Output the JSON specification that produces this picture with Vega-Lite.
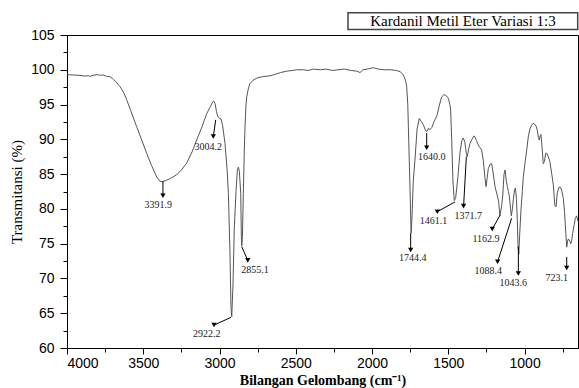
{
  "$schema": "https://vega.github.io/schema/vega-lite/v6.json",
  "width": 511,
  "height": 313,
  "autosize": {"type": "none"},
  "padding": {"left": 67, "top": 35, "right": 1, "bottom": 40},
  "background": "white",
  "config": {
    "view": {"stroke": "black", "strokeWidth": 1},
    "axis": {"domainColor": "black", "tickColor": "black", "labelColor": "black", "titleColor": "black", "grid": false, "labelFont": "Liberation Sans", "labelFontSize": 14, "titleFont": "Liberation Serif"}
  },
  "datasets": {
    "spectrum": [
      {"wn": 4000, "T": 99.3}, {"wn": 3960, "T": 99.25}, {"wn": 3920, "T": 99.2}, {"wn": 3880, "T": 99.1}, {"wn": 3860, "T": 99.15}, {"wn": 3849, "T": 99.05}, {"wn": 3830, "T": 99.2}, {"wn": 3800, "T": 99.3}, {"wn": 3780, "T": 99.2}, {"wn": 3762, "T": 99.25}, {"wn": 3740, "T": 99.05}, {"wn": 3718, "T": 99.0}, {"wn": 3705, "T": 98.8}, {"wn": 3696, "T": 98.6}, {"wn": 3680, "T": 98.3}, {"wn": 3665, "T": 97.9}, {"wn": 3653, "T": 97.6}, {"wn": 3630, "T": 96.8}, {"wn": 3609, "T": 95.7}, {"wn": 3580, "T": 94.0}, {"wn": 3543, "T": 91.8}, {"wn": 3510, "T": 89.9}, {"wn": 3478, "T": 88.0}, {"wn": 3445, "T": 86.2}, {"wn": 3412, "T": 84.6}, {"wn": 3392, "T": 84.0}, {"wn": 3375, "T": 83.9}, {"wn": 3350, "T": 84.1}, {"wn": 3320, "T": 84.4}, {"wn": 3281, "T": 84.9}, {"wn": 3250, "T": 85.6}, {"wn": 3215, "T": 86.6}, {"wn": 3180, "T": 88.2}, {"wn": 3150, "T": 89.9}, {"wn": 3115, "T": 91.8}, {"wn": 3084, "T": 93.7}, {"wn": 3060, "T": 94.7}, {"wn": 3045, "T": 95.4}, {"wn": 3038, "T": 95.5}, {"wn": 3030, "T": 95.2}, {"wn": 3020, "T": 94.0}, {"wn": 3012, "T": 93.3}, {"wn": 3000, "T": 93.0}, {"wn": 2990, "T": 92.9}, {"wn": 2980, "T": 92.0}, {"wn": 2964, "T": 89.4}, {"wn": 2950, "T": 85.5}, {"wn": 2942, "T": 82.2}, {"wn": 2932, "T": 74.0}, {"wn": 2925, "T": 66.0}, {"wn": 2920, "T": 64.5}, {"wn": 2912, "T": 69.0}, {"wn": 2903, "T": 77.4}, {"wn": 2892, "T": 82.5}, {"wn": 2883, "T": 85.6}, {"wn": 2876, "T": 86.0}, {"wn": 2870, "T": 85.4}, {"wn": 2861, "T": 82.2}, {"wn": 2857, "T": 76.0}, {"wn": 2854, "T": 74.7}, {"wn": 2850, "T": 76.0}, {"wn": 2844, "T": 82.2}, {"wn": 2838, "T": 88.0}, {"wn": 2833, "T": 91.8}, {"wn": 2827, "T": 94.8}, {"wn": 2822, "T": 96.1}, {"wn": 2810, "T": 97.4}, {"wn": 2800, "T": 98.05}, {"wn": 2780, "T": 98.5}, {"wn": 2756, "T": 98.8}, {"wn": 2720, "T": 99.0}, {"wn": 2680, "T": 99.1}, {"wn": 2647, "T": 99.25}, {"wn": 2600, "T": 99.6}, {"wn": 2560, "T": 99.8}, {"wn": 2520, "T": 99.9}, {"wn": 2494, "T": 100.0}, {"wn": 2450, "T": 100.0}, {"wn": 2420, "T": 99.9}, {"wn": 2385, "T": 100.1}, {"wn": 2340, "T": 100.0}, {"wn": 2300, "T": 100.1}, {"wn": 2260, "T": 99.9}, {"wn": 2220, "T": 100.0}, {"wn": 2180, "T": 100.1}, {"wn": 2140, "T": 99.9}, {"wn": 2100, "T": 99.8}, {"wn": 2079, "T": 99.6}, {"wn": 2060, "T": 100.0}, {"wn": 2030, "T": 100.1}, {"wn": 1992, "T": 100.3}, {"wn": 1960, "T": 100.1}, {"wn": 1920, "T": 100.0}, {"wn": 1880, "T": 100.0}, {"wn": 1839, "T": 99.9}, {"wn": 1815, "T": 99.7}, {"wn": 1800, "T": 99.4}, {"wn": 1790, "T": 99.0}, {"wn": 1780, "T": 98.4}, {"wn": 1773, "T": 97.6}, {"wn": 1766, "T": 95.0}, {"wn": 1762, "T": 91.8}, {"wn": 1755, "T": 86.0}, {"wn": 1748, "T": 80.0}, {"wn": 1744, "T": 76.5}, {"wn": 1738, "T": 79.0}, {"wn": 1730, "T": 84.0}, {"wn": 1719, "T": 87.0}, {"wn": 1705, "T": 91.5}, {"wn": 1690, "T": 93.0}, {"wn": 1678, "T": 92.6}, {"wn": 1664, "T": 92.1}, {"wn": 1650, "T": 91.3}, {"wn": 1642, "T": 91.1}, {"wn": 1630, "T": 91.6}, {"wn": 1620, "T": 91.4}, {"wn": 1608, "T": 91.7}, {"wn": 1595, "T": 92.5}, {"wn": 1576, "T": 93.3}, {"wn": 1560, "T": 94.8}, {"wn": 1544, "T": 96.1}, {"wn": 1530, "T": 96.4}, {"wn": 1522, "T": 96.4}, {"wn": 1510, "T": 96.2}, {"wn": 1500, "T": 95.9}, {"wn": 1490, "T": 95.0}, {"wn": 1485, "T": 94.2}, {"wn": 1478, "T": 90.0}, {"wn": 1470, "T": 84.0}, {"wn": 1461, "T": 81.2}, {"wn": 1452, "T": 81.6}, {"wn": 1439, "T": 84.2}, {"wn": 1430, "T": 86.5}, {"wn": 1424, "T": 88.0}, {"wn": 1412, "T": 89.8}, {"wn": 1402, "T": 90.2}, {"wn": 1392, "T": 89.6}, {"wn": 1382, "T": 88.0}, {"wn": 1376, "T": 87.5}, {"wn": 1366, "T": 88.7}, {"wn": 1358, "T": 89.4}, {"wn": 1345, "T": 90.0}, {"wn": 1332, "T": 90.5}, {"wn": 1325, "T": 90.3}, {"wn": 1315, "T": 89.8}, {"wn": 1304, "T": 89.2}, {"wn": 1293, "T": 88.8}, {"wn": 1282, "T": 88.5}, {"wn": 1271, "T": 87.0}, {"wn": 1260, "T": 84.5}, {"wn": 1253, "T": 83.2}, {"wn": 1245, "T": 84.5}, {"wn": 1238, "T": 85.8}, {"wn": 1226, "T": 86.4}, {"wn": 1216, "T": 86.5}, {"wn": 1205, "T": 85.0}, {"wn": 1194, "T": 83.2}, {"wn": 1180, "T": 82.0}, {"wn": 1170, "T": 81.0}, {"wn": 1162, "T": 79.0}, {"wn": 1150, "T": 80.5}, {"wn": 1143, "T": 82.0}, {"wn": 1135, "T": 85.0}, {"wn": 1128, "T": 85.6}, {"wn": 1120, "T": 84.0}, {"wn": 1113, "T": 83.2}, {"wn": 1106, "T": 82.5}, {"wn": 1100, "T": 81.8}, {"wn": 1092, "T": 80.0}, {"wn": 1087, "T": 79.0}, {"wn": 1080, "T": 80.0}, {"wn": 1074, "T": 81.3}, {"wn": 1066, "T": 82.8}, {"wn": 1060, "T": 83.0}, {"wn": 1054, "T": 81.5}, {"wn": 1048, "T": 78.5}, {"wn": 1043, "T": 74.5}, {"wn": 1038, "T": 73.5}, {"wn": 1033, "T": 76.0}, {"wn": 1024, "T": 79.8}, {"wn": 1015, "T": 82.5}, {"wn": 1009, "T": 84.5}, {"wn": 998, "T": 86.5}, {"wn": 986, "T": 88.5}, {"wn": 975, "T": 90.5}, {"wn": 965, "T": 91.5}, {"wn": 955, "T": 92.0}, {"wn": 945, "T": 92.3}, {"wn": 935, "T": 92.2}, {"wn": 925, "T": 91.9}, {"wn": 917, "T": 91.3}, {"wn": 910, "T": 90.3}, {"wn": 904, "T": 89.9}, {"wn": 898, "T": 90.5}, {"wn": 893, "T": 90.7}, {"wn": 886, "T": 89.0}, {"wn": 878, "T": 86.5}, {"wn": 870, "T": 86.8}, {"wn": 862, "T": 88.0}, {"wn": 855, "T": 88.0}, {"wn": 845, "T": 87.5}, {"wn": 834, "T": 86.8}, {"wn": 822, "T": 85.0}, {"wn": 812, "T": 83.5}, {"wn": 802, "T": 80.5}, {"wn": 794, "T": 80.3}, {"wn": 786, "T": 82.3}, {"wn": 775, "T": 83.1}, {"wn": 764, "T": 83.1}, {"wn": 755, "T": 82.5}, {"wn": 746, "T": 81.5}, {"wn": 738, "T": 79.5}, {"wn": 730, "T": 76.5}, {"wn": 724, "T": 74.5}, {"wn": 716, "T": 75.6}, {"wn": 709, "T": 75.6}, {"wn": 702, "T": 75.3}, {"wn": 697, "T": 75.0}, {"wn": 691, "T": 75.5}, {"wn": 685, "T": 76.5}, {"wn": 676, "T": 77.6}, {"wn": 668, "T": 78.6}, {"wn": 659, "T": 79.0}, {"wn": 650, "T": 78.2}
    ],
    "peaks": [
      {"label": "3391.9", "lx": 3401, "ly": 80.6, "ax1": 3371, "ay1": 84.0, "ax2": 3371, "ay2": 81.9},
      {"label": "3004.2", "lx": 3074, "ly": 88.85, "ax1": 3025, "ay1": 92.8, "ax2": 3041, "ay2": 90.4},
      {"label": "2922.2", "lx": 3084, "ly": 62.0, "ax1": 2925, "ay1": 64.4, "ax2": 3036, "ay2": 63.3},
      {"label": "2855.1", "lx": 2768, "ly": 71.2, "ax1": 2855, "ay1": 74.6, "ax2": 2815, "ay2": 72.6},
      {"label": "1744.4", "lx": 1734, "ly": 72.9, "ax1": 1747, "ay1": 76.5, "ax2": 1747, "ay2": 74.1},
      {"label": "1640.0", "lx": 1609, "ly": 87.4, "ax1": 1642, "ay1": 90.9, "ax2": 1642, "ay2": 88.8},
      {"label": "1461.1", "lx": 1598, "ly": 78.2, "ax1": 1456, "ay1": 81.0, "ax2": 1572, "ay2": 79.6},
      {"label": "1371.7", "lx": 1369, "ly": 79.0, "ax1": 1382, "ay1": 87.5, "ax2": 1400, "ay2": 80.4},
      {"label": "1162.9", "lx": 1253, "ly": 75.7, "ax1": 1161, "ay1": 79.1, "ax2": 1212, "ay2": 77.1},
      {"label": "1088.4", "lx": 1238, "ly": 71.1, "ax1": 1085, "ay1": 78.65, "ax2": 1177, "ay2": 72.4},
      {"label": "1043.6", "lx": 1074, "ly": 69.4, "ax1": 1041, "ay1": 74.6, "ax2": 1041, "ay2": 70.7},
      {"label": "723.1", "lx": 790, "ly": 70.0, "ax1": 724, "ay1": 73.1, "ax2": 724, "ay2": 71.5}
    ],
    "legendbox": [
      {"label": "Kardanil Metil Eter Variasi 1:3", "x1": 2158, "x2": 652, "y1": 105.8, "y2": 108.2, "tx": 1404, "ty": 107.0}
    ]
  },
  "resolve": {"axis": {"x": "independent", "y": "independent"}},
  "layer": [
    {
      "data": {"name": "spectrum"},
      "mark": {"type": "line", "color": "#555555", "strokeWidth": 1, "interpolate": "linear"},
      "encoding": {
        "x": {"field": "wn", "type": "quantitative", "sort": null,
              "scale": {"domain": [4000, 650], "nice": false, "zero": false},
              "axis": {"orient": "bottom", "values": [4000, 3500, 3000, 2500, 2000, 1500, 1000], "format": "d", "tickSize": 6, "labelPadding": 2, "title": "Bilangan Gelombang (cm⁻¹)", "titleFontWeight": "bold", "titleFontSize": 14, "titlePadding": 3}},
        "y": {"field": "T", "type": "quantitative",
              "scale": {"domain": [60, 105], "nice": false, "zero": false},
              "axis": {"orient": "left", "values": [60, 65, 70, 75, 80, 85, 90, 95, 100, 105], "format": "d", "tickSize": 7, "labelPadding": 6, "title": "Transmitansi (%)", "titleFontWeight": "normal", "titleFontSize": 15, "titlePadding": 6}},
        "order": {"field": "wn", "type": "quantitative", "sort": "descending"}
      }
    },
    {
      "data": {"name": "peaks"},
      "mark": {"type": "rule", "color": "black", "strokeWidth": 1, "clip": false},
      "encoding": {
        "x": {"field": "ax1", "type": "quantitative", "axis": {"orient": "bottom", "values": [3750, 3250, 2750, 2250, 1750, 1250, 750], "labels": false, "domain": false, "tickSize": 4, "title": null}},
        "y": {"field": "ay1", "type": "quantitative", "axis": {"orient": "left", "values": [62.5, 67.5, 72.5, 77.5, 82.5, 87.5, 92.5, 97.5, 102.5], "labels": false, "domain": false, "tickSize": 4, "title": null}},
        "x2": {"field": "ax2"},
        "y2": {"field": "ay2"}
      }
    },
    {
      "data": {"name": "peaks"},
      "mark": {"type": "point", "shape": "triangle-down", "filled": true, "color": "black", "size": 28, "opacity": 1, "clip": false},
      "encoding": {
        "x": {"field": "ax2", "type": "quantitative", "axis": null},
        "y": {"field": "ay2", "type": "quantitative", "axis": null}
      }
    },
    {
      "data": {"name": "peaks"},
      "mark": {"type": "text", "font": "Liberation Serif", "fontSize": 10, "color": "#222222", "align": "center", "baseline": "middle", "clip": false},
      "encoding": {
        "x": {"field": "lx", "type": "quantitative", "axis": null},
        "y": {"field": "ly", "type": "quantitative", "axis": null},
        "text": {"field": "label"}
      }
    },
    {
      "data": {"name": "legendbox"},
      "mark": {"type": "rect", "fill": "white", "stroke": "#444444", "strokeWidth": 1.5, "clip": false},
      "encoding": {
        "x": {"field": "x1", "type": "quantitative", "axis": null},
        "x2": {"field": "x2"},
        "y": {"field": "y1", "type": "quantitative", "axis": null},
        "y2": {"field": "y2"}
      }
    },
    {
      "data": {"name": "legendbox"},
      "mark": {"type": "text", "font": "Liberation Serif", "fontSize": 15, "color": "black", "align": "center", "baseline": "middle", "clip": false},
      "encoding": {
        "x": {"field": "tx", "type": "quantitative", "axis": null},
        "y": {"field": "ty", "type": "quantitative", "axis": null},
        "text": {"field": "label"}
      }
    }
  ]
}
